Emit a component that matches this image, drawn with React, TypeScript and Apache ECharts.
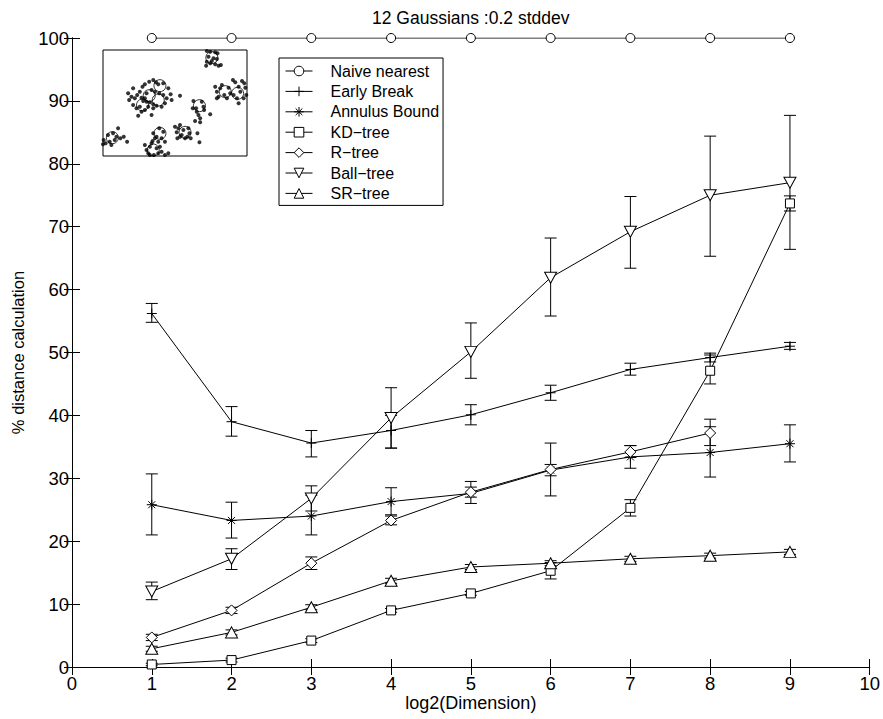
import React, { useEffect, useRef } from "react";
import * as echarts from "echarts";

const FONT = "'Liberation Sans', Arial, Helvetica, sans-serif";

const titleText = "12 Gaussians :0.2 stddev";
const xName = "log2(Dimension)";
const yName = "% distance calculation";

const dims = [1, 2, 3, 4, 5, 6, 7, 8, 9];

const naive = [100, 100, 100, 100, 100, 100, 100, 100, 100];

const earlyBreak = [56.2, 39.0, 35.6, 37.6, 40.1, 43.6, 47.3, 49.2, 51.0];
const earlyLow = [54.8, 36.7, 33.4, 34.8, 38.5, 42.4, 46.4, 48.5, 50.5];
const earlyHigh = [57.8, 41.4, 37.6, 40.0, 41.7, 44.8, 48.3, 49.9, 51.6];

const annulus = [25.8, 23.3, 24.0, 26.3, 27.6, 31.3, 33.4, 34.1, 35.5];
const annulusLow = [21.0, 20.5, 21.0, 24.2, 26.0, 30.4, 31.6, 30.2, 32.6];
const annulusHigh = [30.7, 26.2, 27.3, 28.5, 29.5, 32.2, 35.2, 38.2, 38.5];

const kdTree = [0.4, 1.1, 4.2, 9.0, 11.7, 15.3, 25.3, 47.1, 73.7];
const kdLow = [0.2, 0.8, 3.9, 8.7, 11.4, 14.0, 24.0, 45.0, 72.5];
const kdHigh = [0.6, 1.4, 4.5, 9.3, 12.0, 16.6, 26.6, 49.6, 74.9];

const rTree = [4.7, 9.0, 16.5, 23.3, 27.8, 31.4, 34.2, 37.2];
const rLow = [4.2, 8.5, 15.5, 22.6, 27.0, 27.2, 33.3, 35.2];
const rHigh = [5.2, 9.5, 17.5, 24.0, 28.6, 35.6, 35.2, 39.4];

const ballTree = [12.0, 17.2, 26.8, 39.6, 50.1, 61.9, 69.2, 75.0, 77.0];
const ballLow = [10.7, 15.5, 24.8, 34.8, 45.9, 55.8, 63.4, 65.3, 66.4];
const ballHigh = [13.5, 18.8, 28.8, 44.4, 54.7, 68.2, 74.8, 84.4, 87.7];

const srTree = [2.9, 5.5, 9.5, 13.7, 15.9, 16.5, 17.2, 17.7, 18.3];
const srLow = [2.5, 5.1, 9.1, 13.3, 15.5, 16.1, 16.8, 17.3, 17.9];
const srHigh = [3.3, 5.9, 9.9, 14.1, 16.3, 16.9, 17.6, 18.1, 18.7];

// inset: sample of 12 gaussians (inset pixel-like coordinates, y downward)
const insetCenters = [
  [335, 38], [180, 122], [148, 152], [128, 180], [175, 165], [375, 140],
  [412, 145], [298, 182], [255, 262], [180, 265], [160, 315], [38, 278],
];
const insetDots = [
  [320, 18], [330, 20], [345, 22], [352, 25], [325, 35], [340, 40], [350, 42], [320, 50], [330, 55],
  [345, 58], [355, 62], [362, 60], [318, 62], [335, 48],
  [85, 145], [95, 155], [105, 160], [112, 150], [120, 140], [128, 125], [135, 118], [148, 110],
  [160, 105], [168, 112], [175, 118], [190, 115], [205, 130], [212, 148], [215, 165], [200, 160],
  [195, 175], [185, 185], [170, 182], [160, 178], [150, 172], [140, 170], [130, 168], [120, 185],
  [110, 190], [100, 180], [115, 212], [125, 200], [135, 195], [155, 210], [160, 190], [145, 185],
  [140, 145], [155, 135], [165, 140], [178, 145], [190, 150], [240, 152], [125, 158], [135, 160],
  [100, 130], [88, 165],
  [345, 125], [350, 140], [355, 155], [360, 130], [365, 120], [372, 150], [385, 128], [390, 145],
  [398, 105], [405, 112], [410, 160], [415, 125], [420, 140], [425, 108], [432, 115], [435, 128],
  [438, 150], [430, 160], [415, 175], [400, 150], [350, 160], [380, 160],
  [280, 168], [288, 190], [290, 200], [295, 210], [300, 220], [305, 170], [310, 185], [312, 195],
  [300, 232], [330, 208], [285, 228], [278, 190],
  [225, 245], [230, 262], [235, 250], [240, 240], [245, 270], [250, 255], [255, 280], [262, 275],
  [268, 265], [265, 250], [272, 280], [292, 265], [298, 292], [240, 275], [232, 280],
  [160, 265], [165, 280], [170, 275], [175, 290], [185, 280], [190, 260], [195, 290], [178, 250],
  [158, 288],
  [135, 300], [140, 315], [145, 325], [150, 305], [155, 295], [162, 330], [170, 310], [175, 325],
  [185, 320], [195, 330], [205, 325], [150, 330], [180, 305],
  [12, 285], [18, 295], [25, 270], [30, 290], [40, 265], [45, 285], [50, 275], [55, 250], [62, 280],
  [72, 275], [82, 290], [35, 300], [10, 298],
];

const SYM = {
  plus: "path://M0,5L10,5M5,0L5,10",
  star: "path://M0,5L10,5M5,0L5,10M1.5,1.5L8.5,8.5M1.5,8.5L8.5,1.5",
  down: "path://M0,0L12,0L6,11Z",
  up: "path://M6,0L12,11L0,11Z",
};

const seriesDefs: any[] = [
  { name: "Naive nearest", values: naive, low: null, high: null, symbol: "circle", size: 9 },
  { name: "Early Break", values: earlyBreak, low: earlyLow, high: earlyHigh, symbol: SYM.plus, size: 10 },
  { name: "Annulus Bound", values: annulus, low: annulusLow, high: annulusHigh, symbol: SYM.star, size: 10 },
  { name: "KD\u2212tree", values: kdTree, low: kdLow, high: kdHigh, symbol: "rect", size: 9 },
  { name: "R\u2212tree", values: rTree, low: rLow, high: rHigh, symbol: "diamond", size: 11 },
  { name: "Ball\u2212tree", values: ballTree, low: ballLow, high: ballHigh, symbol: SYM.down, size: [12, 11] },
  { name: "SR\u2212tree", values: srTree, low: srLow, high: srHigh, symbol: SYM.up, size: [12, 11] },
];

export default function App() {
  const ref = useRef<HTMLDivElement>(null);
  useEffect(() => {
    const chart = echarts.init(ref.current!, null, { renderer: "svg" });
    const black = "#000";
    const series: any[] = [];
    seriesDefs.forEach((d) => {
      if (d.low) {
        series.push({
          type: "custom",
          xAxisIndex: 0,
          yAxisIndex: 0,
          silent: true,
          z: 2,
          data: d.low.map((lo: number, i: number) => [dims[i], lo, d.high[i]]),
          encode: { x: 0, y: [1, 2] },
          renderItem: (params: any, api: any) => {
            const x = api.value(0);
            const p1 = api.coord([x, api.value(2)]);
            const p2 = api.coord([x, api.value(1)]);
            const w = 6;
            const style = { stroke: black, lineWidth: 1, fill: null };
            return {
              type: "group",
              children: [
                { type: "line", shape: { x1: p1[0], y1: p1[1], x2: p2[0], y2: p2[1] }, style },
                { type: "line", shape: { x1: p1[0] - w, y1: p1[1], x2: p1[0] + w, y2: p1[1] }, style },
                { type: "line", shape: { x1: p2[0] - w, y1: p2[1], x2: p2[0] + w, y2: p2[1] }, style },
              ],
            };
          },
        });
      }
      series.push({
        type: "line",
        name: d.name,
        xAxisIndex: 0,
        yAxisIndex: 0,
        data: d.values.map((v: number, i: number) => [dims[i], v]),
        symbol: d.symbol,
        symbolSize: d.size,
        showSymbol: true,
        showAllSymbol: true,
        z: 3,
        lineStyle: { color: black, width: 1 },
        itemStyle: { color: "#fff", borderColor: black, borderWidth: 1 },
        emphasis: { disabled: true },
      });
    });

    series.push({
      type: "scatter",
      xAxisIndex: 2,
      yAxisIndex: 2,
      data: insetDots,
      symbol: "circle",
      symbolSize: 4,
      itemStyle: { color: black },
      silent: true,
      clip: true,
      z: 20,
    });
    series.push({
      type: "scatter",
      xAxisIndex: 2,
      yAxisIndex: 2,
      data: insetCenters,
      symbol: "circle",
      symbolSize: 12,
      itemStyle: { color: "rgba(0,0,0,0)", borderColor: black, borderWidth: 1 },
      silent: true,
      clip: true,
      z: 21,
    });

    const tickStyle = { inside: true, length: 8, lineStyle: { color: black, width: 1 } };
    const lineStyle = { show: true, lineStyle: { color: black, width: 1 } };
    const labelStyle = { color: black, fontSize: 18.5, fontFamily: FONT };

    chart.setOption({
      animation: false,
      backgroundColor: "#fff",
      title: {
        text: titleText,
        left: 372,
        top: 9,
        padding: 0,
        textStyle: { color: black, fontSize: 17.5, fontWeight: "normal", fontFamily: FONT },
      },
      legend: {
        data: seriesDefs.map((d) => d.name),
        orient: "vertical",
        left: 279,
        top: 58,
        padding: [5, 4, 4, 6],
        itemWidth: 27,
        itemHeight: 12,
        itemGap: 4.4,
        selectedMode: false,
        backgroundColor: "#fff",
        borderColor: black,
        borderWidth: 1,
        borderRadius: 0,
        itemStyle: { color: "#fff", borderColor: black, borderWidth: 1 },
        lineStyle: { color: black, width: 1 },
        textStyle: { color: black, fontSize: 16, fontFamily: FONT, lineHeight: 16, padding: [0, 0, 0, 13] },
        z: 10,
      },
      grid: [
        { left: 72, right: 13, top: 38, bottom: 52, containLabel: false },
        {
          left: 103,
          top: 50,
          width: 144,
          height: 106,
          show: true,
          backgroundColor: "#fff",
          borderColor: black,
          borderWidth: 1,
          z: 8,
        },
      ],
      xAxis: [
        {
          type: "value",
          gridIndex: 0,
          position: "bottom",
          min: 0,
          max: 10,
          interval: 1,
          axisLine: lineStyle,
          axisTick: tickStyle,
          splitLine: { show: false },
          axisLabel: { ...labelStyle, margin: 7 },
          name: xName,
          nameLocation: "middle",
          nameGap: 27,
          nameMoveOverlap: false,
          nameTextStyle: { color: black, fontSize: 18, fontFamily: FONT },
        },
        {
          type: "value",
          gridIndex: 0,
          position: "top",
          min: 0,
          max: 10,
          interval: 1,
          axisLine: lineStyle,
          axisTick: tickStyle,
          splitLine: { show: false },
          axisLabel: { show: false },
        },
        { type: "value", gridIndex: 1, min: 10, max: 440, show: false },
      ],
      yAxis: [
        {
          type: "value",
          gridIndex: 0,
          position: "left",
          min: 0,
          max: 100,
          interval: 10,
          axisLine: lineStyle,
          axisTick: tickStyle,
          splitLine: { show: false },
          axisLabel: { ...labelStyle, margin: 3 },
          name: yName,
          nameLocation: "middle",
          nameGap: 46,
          nameMoveOverlap: false,
          nameTextStyle: { color: black, fontSize: 16.5, fontFamily: FONT },
        },
        {
          type: "value",
          gridIndex: 0,
          position: "right",
          min: 0,
          max: 100,
          interval: 10,
          axisLine: lineStyle,
          axisTick: tickStyle,
          splitLine: { show: false },
          axisLabel: { show: false },
        },
        { type: "value", gridIndex: 1, min: 15, max: 333, inverse: true, show: false },
      ],
      series,
    });
    return () => chart.dispose();
  }, []);
  return (
    <div
      ref={ref}
      style={{ position: "fixed", left: 0, top: 0, width: 883, height: 719, background: "#fff" }}
    />
  );
}
